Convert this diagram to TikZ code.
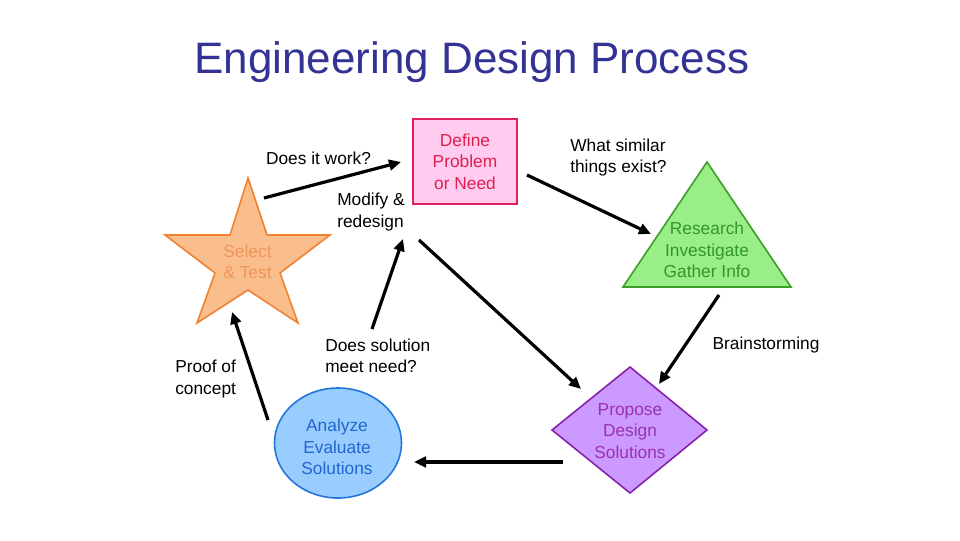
\documentclass[tikz,border=0pt]{standalone}
\usepackage{fontspec}
\setmainfont{Liberation Sans}
\usetikzlibrary{arrows.meta,shapes.geometric}
\definecolor{titleblue}{RGB}{51,51,150}
\definecolor{deffill}{RGB}{255,204,240}
\definecolor{defdraw}{RGB}{224,32,96}
\definecolor{deftext}{RGB}{224,32,80}
\definecolor{resfill}{RGB}{153,238,136}
\definecolor{resdraw}{RGB}{60,160,40}
\definecolor{restext}{RGB}{50,150,40}
\definecolor{profill}{RGB}{204,153,255}
\definecolor{prodraw}{RGB}{136,34,170}
\definecolor{protext}{RGB}{153,51,170}
\definecolor{anafill}{RGB}{153,204,255}
\definecolor{anadraw}{RGB}{34,119,221}
\definecolor{anatext}{RGB}{34,102,204}
\definecolor{selfill}{RGB}{250,190,140}
\definecolor{seldraw}{RGB}{240,130,50}
\definecolor{seltext}{RGB}{240,150,90}
\begin{document}
\begin{tikzpicture}[x=0.75pt,y=-0.75pt,
  every node/.style={font=\fontsize{13}{16}\selectfont, align=center, inner sep=0pt},
  shapeline/.style={line width=1.2pt, line join=miter},
  lbl/.style={align=left, anchor=west},
  arr/.style={line width=2.4pt, -{Triangle[length=9pt,width=8pt]}}]
\useasboundingbox (0,0) rectangle (960,540);
\fill[white] (0,0) rectangle (960,540);

\node[anchor=base, font=\fontsize{33}{36}\selectfont, text=titleblue] (title) at (472,73) {Engineering Design Process};

% Define
\node[draw=defdraw, fill=deffill, shapeline, minimum width=78pt, minimum height=63.75pt, text=deftext] (define) at (465,161.5) {Define\\Problem\\or Need};

% Research triangle
\draw[shapeline, draw=resdraw, fill=resfill] (707,162) -- (791,287) -- (623,287) -- cycle;
\node[text=restext] (research) at (707,250) {Research\\Investigate\\Gather Info};

% Propose diamond
\draw[shapeline, draw=prodraw, fill=profill] (630,367) -- (707,430) -- (630,493) -- (552,430) -- cycle;
\node[text=protext] (propose) at (630,431) {Propose\\Design\\Solutions};

% Analyze ellipse
\node[ellipse, draw=anadraw, fill=anafill, shapeline, minimum width=95.25pt, minimum height=82.5pt] (anashape) at (338,443) {};
\node[text=anatext] (analyze) at (337,447) {Analyze\\Evaluate\\Solutions};

% Select star
\draw[shapeline, draw=seldraw, fill=selfill] (248,178) -- (267,235) -- (330,235) -- (280,273) -- (298,323) -- (248,290) -- (197,323) -- (215,273) -- (165,235) -- (230,235) -- cycle;
\node[text=seltext] (select) at (247.5,261.5) {Select\\\& Test};

% labels
\node (l1) at (318.5,158) {Does it work?};
\node[lbl] (l2) at (570,157.5) {What similar\\things exist?};
\node (l3) at (766,345) {Brainstorming};
\node[lbl] (l4) at (337,212) {Modify \&\\redesign};
\node[lbl] (l5) at (325,356) {Does solution\\meet need?};
\node[lbl] (l6) at (175,379) {Proof of\\concept};

% arrow endpoints
\coordinate (a1s) at (264,198); \coordinate (a1e) at (401,162);
\coordinate (a2s) at (527,175); \coordinate (a2e) at (651,234);
\coordinate (a3s) at (719,295); \coordinate (a3e) at (659,384);
\coordinate (a4s) at (419,240); \coordinate (a4e) at (581,389);
\coordinate (a5s) at (563,462); \coordinate (a5e) at (414,462);
\coordinate (a6s) at (268,420); \coordinate (a6e) at (232,312);
\coordinate (a7s) at (372,329); \coordinate (a7e) at (403,239);

\draw[arr] (a1s) -- (a1e);
\draw[arr] (a2s) -- (a2e);
\draw[arr] (a3s) -- (a3e);
\draw[arr] (a4s) -- (a4e);
\draw[arr] (a5s) -- (a5e);
\draw[arr] (a6s) -- (a6e);
\draw[arr] (a7s) -- (a7e);
\end{tikzpicture}
\end{document}
